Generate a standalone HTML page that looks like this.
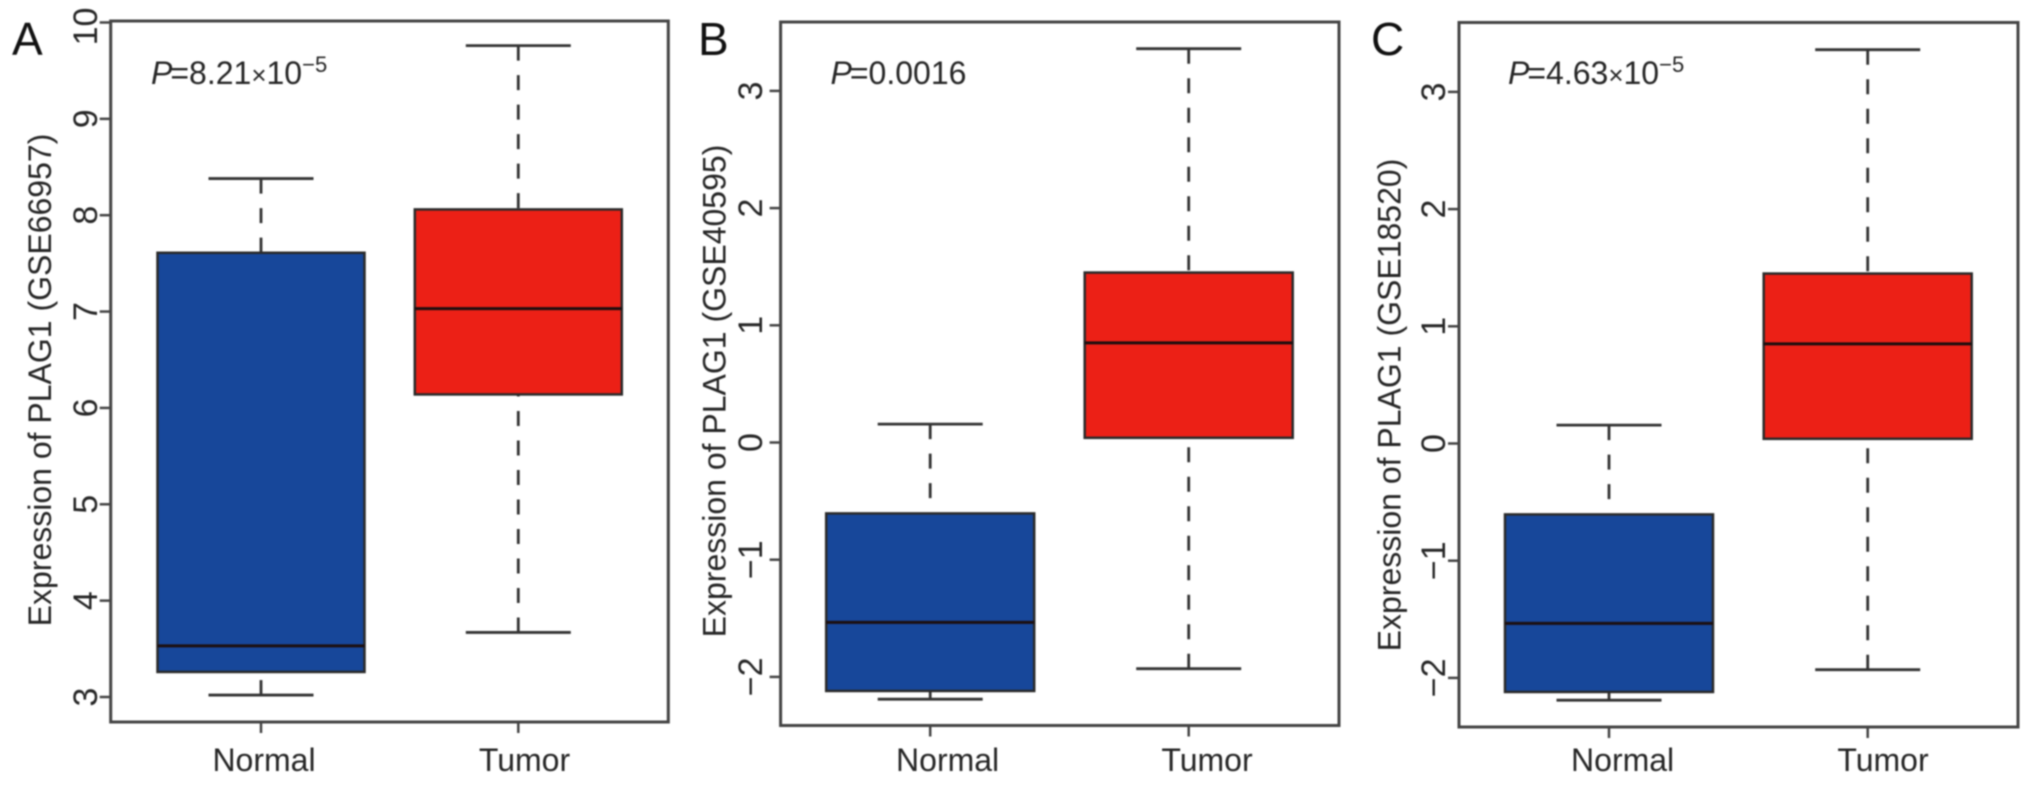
<!DOCTYPE html>
<html lang="en">
<head>
<meta charset="utf-8">
<title>PLAG1 expression boxplots</title>
<style>
html,body{margin:0;padding:0;background:#fff;width:2032px;height:785px;overflow:hidden}
svg{display:block;filter:blur(0.7px)}
text{font-family:"Liberation Sans",Arial,sans-serif;fill:#262626}
</style>
</head>
<body>
<svg id="figure" xmlns="http://www.w3.org/2000/svg" width="2032" height="785" viewBox="0 0 2032 785"></svg>
<script>
// ---- Data (five-number summaries: min, q1, median, q3, max) ----
const categories = ['Normal', 'Tumor'];
const panelANormal = [3.02, 3.26, 3.53, 7.61, 8.38];
const panelATumor = [3.67, 6.14, 7.03, 8.06, 9.76];
const panelBNormal = [-2.19, -2.12, -1.535, -0.605, 0.157];
const panelBTumor = [-1.93, 0.04, 0.85, 1.45, 3.36];
const panelCNormal = [-2.19, -2.12, -1.535, -0.605, 0.157];
const panelCTumor = [-1.93, 0.04, 0.85, 1.45, 3.36];
const panelATicks = [3, 4, 5, 6, 7, 8, 9, 10];
const panelBTicks = [-2, -1, 0, 1, 2, 3];
const panelCTicks = [-2, -1, 0, 1, 2, 3];
const panelATitle = 'Expression of PLAG1 (GSE66957)';
const panelBTitle = 'Expression of PLAG1 (GSE40595)';
const panelCTitle = 'Expression of PLAG1 (GSE18520)';

// ---- Layout ----
const panels = [
  {id:'a', letter:'A', letterX:12, normal:panelANormal, tumor:panelATumor, ticks:panelATicks, title:panelATitle,
   left:110.7, right:668.3, top:21, bottom:722, refValue:3, refY:697, unit:96.36,
   cx0:261, cx1:518.3, halfBox:103.5, halfCap:52.5,
   tickBase:97, titleBase:51, titleCy:380, lab0:264, lab1:524.5,
   pX:151, pBase:84, pValue:'8.21', pExp:true},
  {id:'b', letter:'B', letterX:698, normal:panelBNormal, tumor:panelBTumor, ticks:panelBTicks, title:panelBTitle,
   left:780.6, right:1339, top:22, bottom:725.5, refValue:0, refY:442.5, unit:117.2,
   cx0:930.2, cx1:1188.7, halfBox:104, halfCap:52.5,
   tickBase:762, titleBase:725.5, titleCy:391, lab0:947.6, lab1:1207,
   pX:830.5, pBase:84, pValue:'0.0016', pExp:false},
  {id:'c', letter:'C', letterX:1371, normal:panelCNormal, tumor:panelCTumor, ticks:panelCTicks, title:panelCTitle,
   left:1459, right:2018, top:22.5, bottom:727, refValue:0, refY:443.5, unit:117.2,
   cx0:1609, cx1:1867.7, halfBox:104, halfCap:52.5,
   tickBase:1445, titleBase:1400.6, titleCy:405, lab0:1622.6, lab1:1883,
   pX:1508, pBase:84, pValue:'4.63', pExp:true}
];
const fills = ['#17479a', '#ec2016'];
const fontPx = 32;
const tickFontPx = 34;
const NS = 'http://www.w3.org/2000/svg';
const svg = document.getElementById('figure');

function el(parent, tag, props) {
  const node = document.createElementNS(NS, tag);
  for (const k in props) node.setAttribute(k, props[k]);
  parent.appendChild(node);
  return node;
}
function fmt(v) { return v < 0 ? '\u2212' + Math.abs(v) : String(v); }

function drawBox(g, stats, cx, p, yScale, fill, name) {
  const [mn, q1, med, q3, mx] = stats;
  const lineStyle = {stroke:'#333', 'stroke-width':2.8, fill:'none'};
  const group = el(g, 'g', {});
  
  

  const upper = el(group, 'line', Object.assign({x1:cx, x2:cx, y1:yScale(mx), y2:yScale(q3), 'stroke-dasharray':'15 14.5'}, lineStyle));
  
  
  const lower = el(group, 'line', Object.assign({x1:cx, x2:cx, y1:yScale(mn), y2:yScale(q1), 'stroke-dasharray':'15 14.5'}, lineStyle));
  
  
  const capTop = el(group, 'line', Object.assign({x1:cx - p.halfCap, x2:cx + p.halfCap, y1:yScale(mx), y2:yScale(mx)}, lineStyle));
  
  
  const capBottom = el(group, 'line', Object.assign({x1:cx - p.halfCap, x2:cx + p.halfCap, y1:yScale(mn), y2:yScale(mn)}, lineStyle));
  
  

  const rect = el(group, 'rect', {x:cx - p.halfBox, width:p.halfBox * 2, y:yScale(q3), height:yScale(q1) - yScale(q3), fill:fill, stroke:'#2a2a2a', 'stroke-width':2.5});
  
  
  const median = el(group, 'line', {x1:cx - p.halfBox, x2:cx + p.halfBox, y1:yScale(med), y2:yScale(med), stroke:'#1c0f10', 'stroke-width':3});
  
  
}

panels.forEach(function (p) {
  const yScale = function (v) { return p.refY - (v - p.refValue) * p.unit; };
  const g = el(svg, 'g', {});
  
  

  const letter = el(g, 'text', {x:p.letterX, y:55, 'font-size':46, style:'fill:#111'});
  letter.textContent = p.letter;
  
  

  // y ticks + labels
  p.ticks.forEach(function (t) {
    const y = yScale(t);
    const tick = el(g, 'line', {x1:p.left - 11, x2:p.left, y1:y, y2:y, stroke:'#444', 'stroke-width':2.5});
    
    
    const labelY = y < p.top + 10 ? y + 4 : y;
    const label = el(g, 'text', {x:0, y:0, 'font-size':tickFontPx, 'text-anchor':'middle', transform:'translate(' + p.tickBase + ',' + labelY + ') rotate(-90)'});
    label.textContent = fmt(t);
    
    
  });

  // y axis title
  const title = el(g, 'text', {x:0, y:0, 'font-size':fontPx, 'text-anchor':'middle', transform:'translate(' + p.titleBase + ',' + p.titleCy + ') rotate(-90)'});
  title.textContent = p.title;
  
  

  // x ticks + labels
  categories.forEach(function (c, i) {
    const cx = i === 0 ? p.cx0 : p.cx1;
    const tick = el(g, 'line', {x1:cx, x2:cx, y1:p.bottom, y2:p.bottom + 11, stroke:'#444', 'stroke-width':2.5});
    
    
    const label = el(g, 'text', {x:i === 0 ? p.lab0 : p.lab1, y:771, 'font-size':fontPx, 'text-anchor':'middle'});
    label.textContent = c;
    
    
  });

  // boxes
  drawBox(g, p.normal, p.cx0, p, yScale, fills[0], 'normal');
  drawBox(g, p.tumor, p.cx1, p, yScale, fills[1], 'tumor');

  // frame
  const frame = el(g, 'rect', {x:p.left, y:p.top, width:p.right - p.left, height:p.bottom - p.top, fill:'none', stroke:'#444', 'stroke-width':3});
  
  

  // p-value annotation
  const pText = el(g, 'text', {x:p.pX, y:p.pBase, 'font-size':fontPx});
  
  
  const pi = el(pText, 'tspan', {'font-style':'italic'});
  pi.textContent = 'P';
  const rest = el(pText, 'tspan', {dx:-2});
  rest.textContent = '=' + p.pValue;
  if (p.pExp) {
    const times = el(pText, 'tspan', {'font-size':26});
    times.textContent = '\u00d7';
    const ten = el(pText, 'tspan', {});
    ten.textContent = '10';
    const sup = el(pText, 'tspan', {'font-size':22, dy:-12});
    sup.textContent = '\u22125';
  }
});
</script>
</body>
</html>
